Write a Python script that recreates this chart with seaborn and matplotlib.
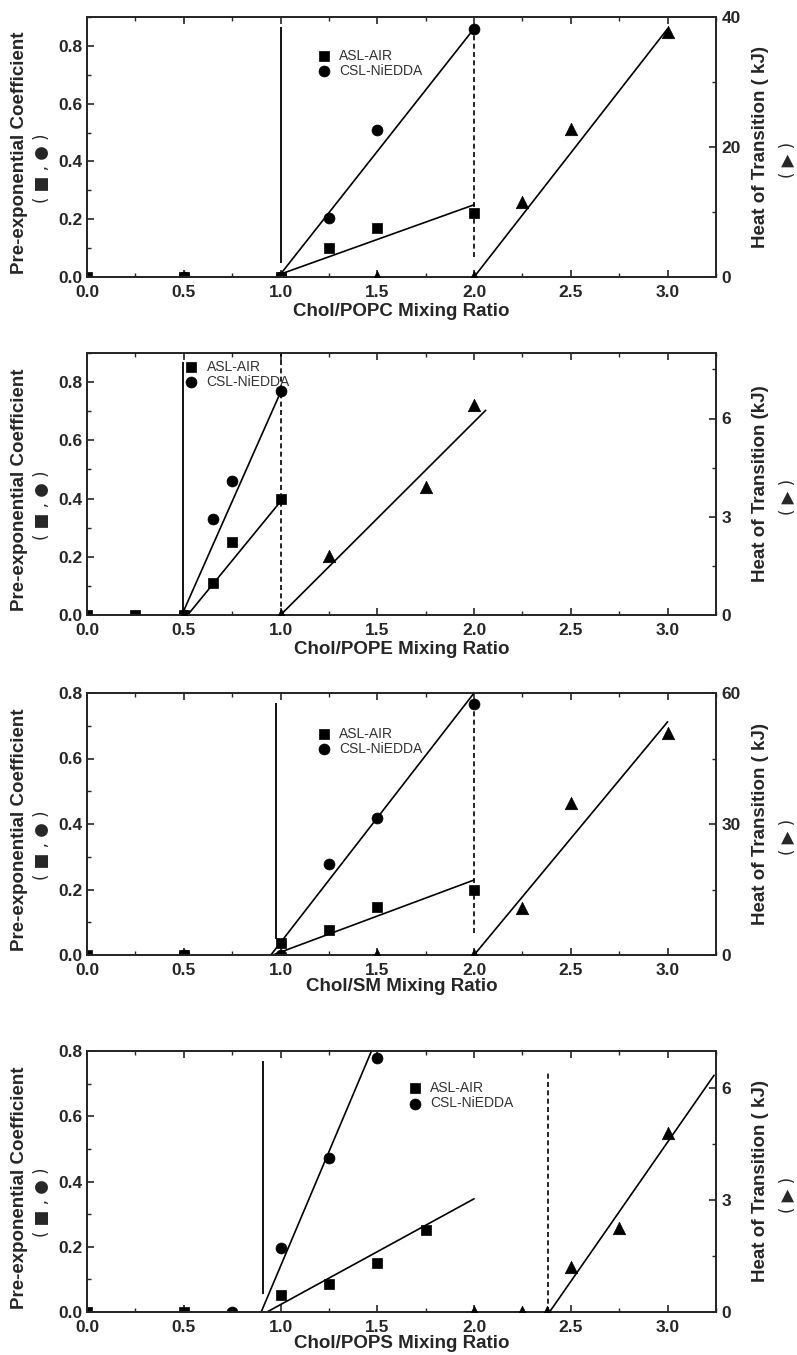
import matplotlib
matplotlib.use("Agg")
import matplotlib.pyplot as plt
from matplotlib.ticker import MultipleLocator
import seaborn as sns

# ---- data ----
# x values are Chol/lipid mixing ratios; square = ASL-AIR, circle = CSL-NiEDDA,
# triangle = heat of transition (right axis, kJ)

# Chol/POPC
popc_sq_x = [0.0, 0.5, 1.0, 1.25, 1.5, 2.0]
popc_sq_y = [0.0, 0.0, 0.0, 0.10, 0.17, 0.22]
popc_ci_x = [0.5, 1.0, 1.25, 1.5, 2.0]
popc_ci_y = [0.0, 0.0, 0.205, 0.51, 0.86]
popc_tri_x = [1.5, 2.0, 2.25, 2.5, 3.0]
popc_tri_y = [0.0, 0.0, 11.5, 22.7, 37.7]
popc_sq_fit = ([1.0, 2.0], [0.01, 0.25])
popc_ci_fit = ([1.0, 2.0], [0.01, 0.86])
popc_tri_fit = ([2.0, 3.0], [0.0, 38.2])
popc_solid = (1.0, 0.05, 0.865)
popc_dash = (2.0, 0.07, 0.86)

# Chol/POPE
pope_sq_x = [0.0, 0.25, 0.5, 0.65, 0.75, 1.0]
pope_sq_y = [0.0, 0.0, 0.0, 0.11, 0.25, 0.40]
pope_ci_x = [0.5, 0.65, 0.75, 1.0]
pope_ci_y = [0.0, 0.33, 0.46, 0.77]
pope_tri_x = [0.5, 1.0, 1.25, 1.75, 2.0]
pope_tri_y = [0.0, 0.0, 1.8, 3.9, 6.4]
pope_sq_fit = ([0.52, 1.0], [0.0, 0.39])
pope_ci_fit = ([0.49, 1.0], [0.0, 0.765])
pope_tri_fit = ([1.0, 2.06], [0.0, 6.25])
pope_solid = (0.495, 0.0, 0.87)
pope_dash = (1.0, 0.0, 0.9)

# Chol/SM
sm_sq_x = [0.0, 0.5, 1.0, 1.25, 1.5, 2.0]
sm_sq_y = [0.0, 0.0, 0.037, 0.077, 0.148, 0.198]
sm_ci_x = [0.5, 1.0, 1.25, 1.5, 2.0]
sm_ci_y = [0.0, 0.0, 0.278, 0.418, 0.766]
sm_tri_x = [1.5, 2.0, 2.25, 2.5, 3.0]
sm_tri_y = [0.0, 0.0, 10.8, 34.8, 50.8]
sm_sq_fit = ([0.96, 2.0], [0.0, 0.229])
sm_ci_fit = ([0.95, 2.0], [0.0, 0.80])
sm_tri_fit = ([2.0, 3.0], [0.0, 53.4])
sm_solid = (0.974, 0.05, 0.77)
sm_dash = (2.0, 0.067, 0.77)

# Chol/POPS
pops_sq_x = [0.0, 0.5, 1.0, 1.25, 1.5, 1.75]
pops_sq_y = [0.0, 0.0, 0.052, 0.086, 0.15, 0.25]
pops_ci_x = [0.75, 1.0, 1.25, 1.5]
pops_ci_y = [0.0, 0.196, 0.472, 0.78]
pops_tri_x = [2.0, 2.25, 2.375, 2.5, 2.75, 3.0]
pops_tri_y = [0.0, 0.0, 0.0, 1.2, 2.25, 4.8]
pops_sq_fit = ([0.93, 2.0], [0.0, 0.347])
pops_ci_fit = ([0.90, 1.47], [0.0, 0.80])
pops_tri_fit = ([2.39, 3.24], [0.0, 6.35])
pops_solid = (0.907, 0.055, 0.77)
pops_dash = (2.38, 0.0, 0.74)

x_labels = ["Chol/POPC Mixing Ratio", "Chol/POPE Mixing Ratio",
            "Chol/SM Mixing Ratio", "Chol/POPS Mixing Ratio"]
right_labels = ["Heat of Transition ( kJ)", "Heat of Transition (kJ)",
                "Heat of Transition ( kJ)", "Heat of Transition ( kJ)"]
left_ylim = [0.9, 0.9, 0.8, 0.8]
right_ylim = [40, 8, 60, 7]
right_major = [20, 3, 30, 3]
right_minor = [10, 1.5, 15, 1.5]

panels = [
    (popc_sq_x, popc_sq_y, popc_ci_x, popc_ci_y, popc_tri_x, popc_tri_y,
     popc_sq_fit, popc_ci_fit, popc_tri_fit, popc_solid, popc_dash),
    (pope_sq_x, pope_sq_y, pope_ci_x, pope_ci_y, pope_tri_x, pope_tri_y,
     pope_sq_fit, pope_ci_fit, pope_tri_fit, pope_solid, pope_dash),
    (sm_sq_x, sm_sq_y, sm_ci_x, sm_ci_y, sm_tri_x, sm_tri_y,
     sm_sq_fit, sm_ci_fit, sm_tri_fit, sm_solid, sm_dash),
    (pops_sq_x, pops_sq_y, pops_ci_x, pops_ci_y, pops_tri_x, pops_tri_y,
     pops_sq_fit, pops_ci_fit, pops_tri_fit, pops_solid, pops_dash),
]

# legend anchor (axes fraction) per panel
legend_pos = [(0.365, 0.878), (0.155, 0.975), (0.365, 0.872), (0.51, 0.885)]
xlabel_pad = [2, 2, 0, 0]

# axes boxes in pixels: (top, bottom)
W, H = 797, 1355
ax_left, ax_right = 87, 716
ax_rows = [(17, 277), (353, 615), (693, 955), (1051, 1312)]

sns.set_style("ticks")
plt.rcParams['font.family'] = ['Liberation Sans', 'DejaVu Sans']
plt.rcParams['axes.linewidth'] = 1.3

fig = plt.figure(figsize=(W / 100, H / 100), dpi=100)

for i, p in enumerate(panels):
    sq_x, sq_y, ci_x, ci_y, tri_x, tri_y, sq_fit, ci_fit, tri_fit, solid, dash = p
    top, bot = ax_rows[i]
    ax = fig.add_axes([ax_left / W, 1 - bot / H, (ax_right - ax_left) / W, (bot - top) / H])
    ax2 = ax.twinx()

    # fit lines
    sns.lineplot(x=sq_fit[0], y=sq_fit[1], ax=ax, color="black", lw=1.2, estimator=None, sort=False)
    sns.lineplot(x=ci_fit[0], y=ci_fit[1], ax=ax, color="black", lw=1.2, estimator=None, sort=False)
    sns.lineplot(x=tri_fit[0], y=tri_fit[1], ax=ax2, color="black", lw=1.2, estimator=None, sort=False)
    ax.vlines(solid[0], solid[1], solid[2], color="black", lw=1.3)
    ax.vlines(dash[0], dash[1], dash[2], color="black", lw=1.2, linestyles=(0, (3, 2)))

    # points
    sns.scatterplot(x=sq_x, y=sq_y, ax=ax, marker="s", s=55, color="black",
                    edgecolor="black", linewidth=0.5, label="ASL-AIR", zorder=3)
    sns.scatterplot(x=ci_x, y=ci_y, ax=ax, marker="o", s=62, color="black",
                    edgecolor="black", linewidth=0.5, label="CSL-NiEDDA", zorder=3)
    sns.scatterplot(x=tri_x, y=tri_y, ax=ax2, marker="^", s=80, color="black",
                    edgecolor="black", linewidth=0.5, zorder=3, legend=False)

    ax.set_xlim(0, 3.25)
    ax.set_ylim(0, left_ylim[i])
    ax2.set_ylim(0, right_ylim[i])

    ax.xaxis.set_major_locator(MultipleLocator(0.5))
    ax.xaxis.set_minor_locator(MultipleLocator(0.25))
    ax.yaxis.set_major_locator(MultipleLocator(0.2))
    ax.yaxis.set_minor_locator(MultipleLocator(0.1))
    ax2.yaxis.set_major_locator(MultipleLocator(right_major[i]))
    ax2.yaxis.set_minor_locator(MultipleLocator(right_minor[i]))
    ax.xaxis.set_major_formatter(matplotlib.ticker.FormatStrFormatter("%.1f"))
    ax.yaxis.set_major_formatter(matplotlib.ticker.FormatStrFormatter("%.1f"))

    ax.tick_params(axis="both", which="both", direction="in", top=True, right=False)
    ax.tick_params(axis="x", which="major", length=5, width=1.2, pad=6, labelsize=12.5)
    ax.tick_params(axis="y", which="major", length=5, width=1.2, pad=3, labelsize=12.5)
    ax.tick_params(which="minor", length=3, width=1.0)
    ax2.tick_params(axis="y", which="both", direction="in")
    ax2.tick_params(axis="y", which="major", length=5, width=1.2, pad=4, labelsize=12.5)
    ax2.tick_params(axis="y", which="minor", length=3, width=1.0)
    for lab in ax.get_xticklabels() + ax.get_yticklabels() + ax2.get_yticklabels():
        lab.set_fontweight("bold")

    for a in (ax, ax2):
        for s in a.spines.values():
            s.set_visible(True)
            s.set_linewidth(1.3)

    ax.set_xlabel(x_labels[i], fontsize=13.5, fontweight="bold", labelpad=xlabel_pad[i])
    ax.set_ylabel("")
    ax2.set_ylabel("")
    ax.text(-0.108, 0.477, "Pre-exponential Coefficient", transform=ax.transAxes,
            rotation=90, ha="center", va="center", fontsize=13.5, fontweight="bold")
    ax.text(-0.0715, 0.42, "( \u25a0 , \u25cf )", transform=ax.transAxes,
            rotation=90, ha="center", va="center", fontsize=12, family="DejaVu Sans")
    ax.text(1.07, 0.5, right_labels[i], transform=ax.transAxes,
            rotation=90, ha="center", va="center", fontsize=13.5, fontweight="bold")
    ax.text(1.114, 0.45, "( \u25b6 )", transform=ax.transAxes,
            rotation=90, ha="center", va="center", fontsize=12, family="DejaVu Sans")

    ax.legend(loc="upper left", bbox_to_anchor=legend_pos[i], frameon=False,
              fontsize=10, handlelength=1.0, handletextpad=0.6, borderpad=0,
              borderaxespad=0, labelspacing=0.1, labelcolor="#333333")

fig.savefig("out.png", dpi=100)
